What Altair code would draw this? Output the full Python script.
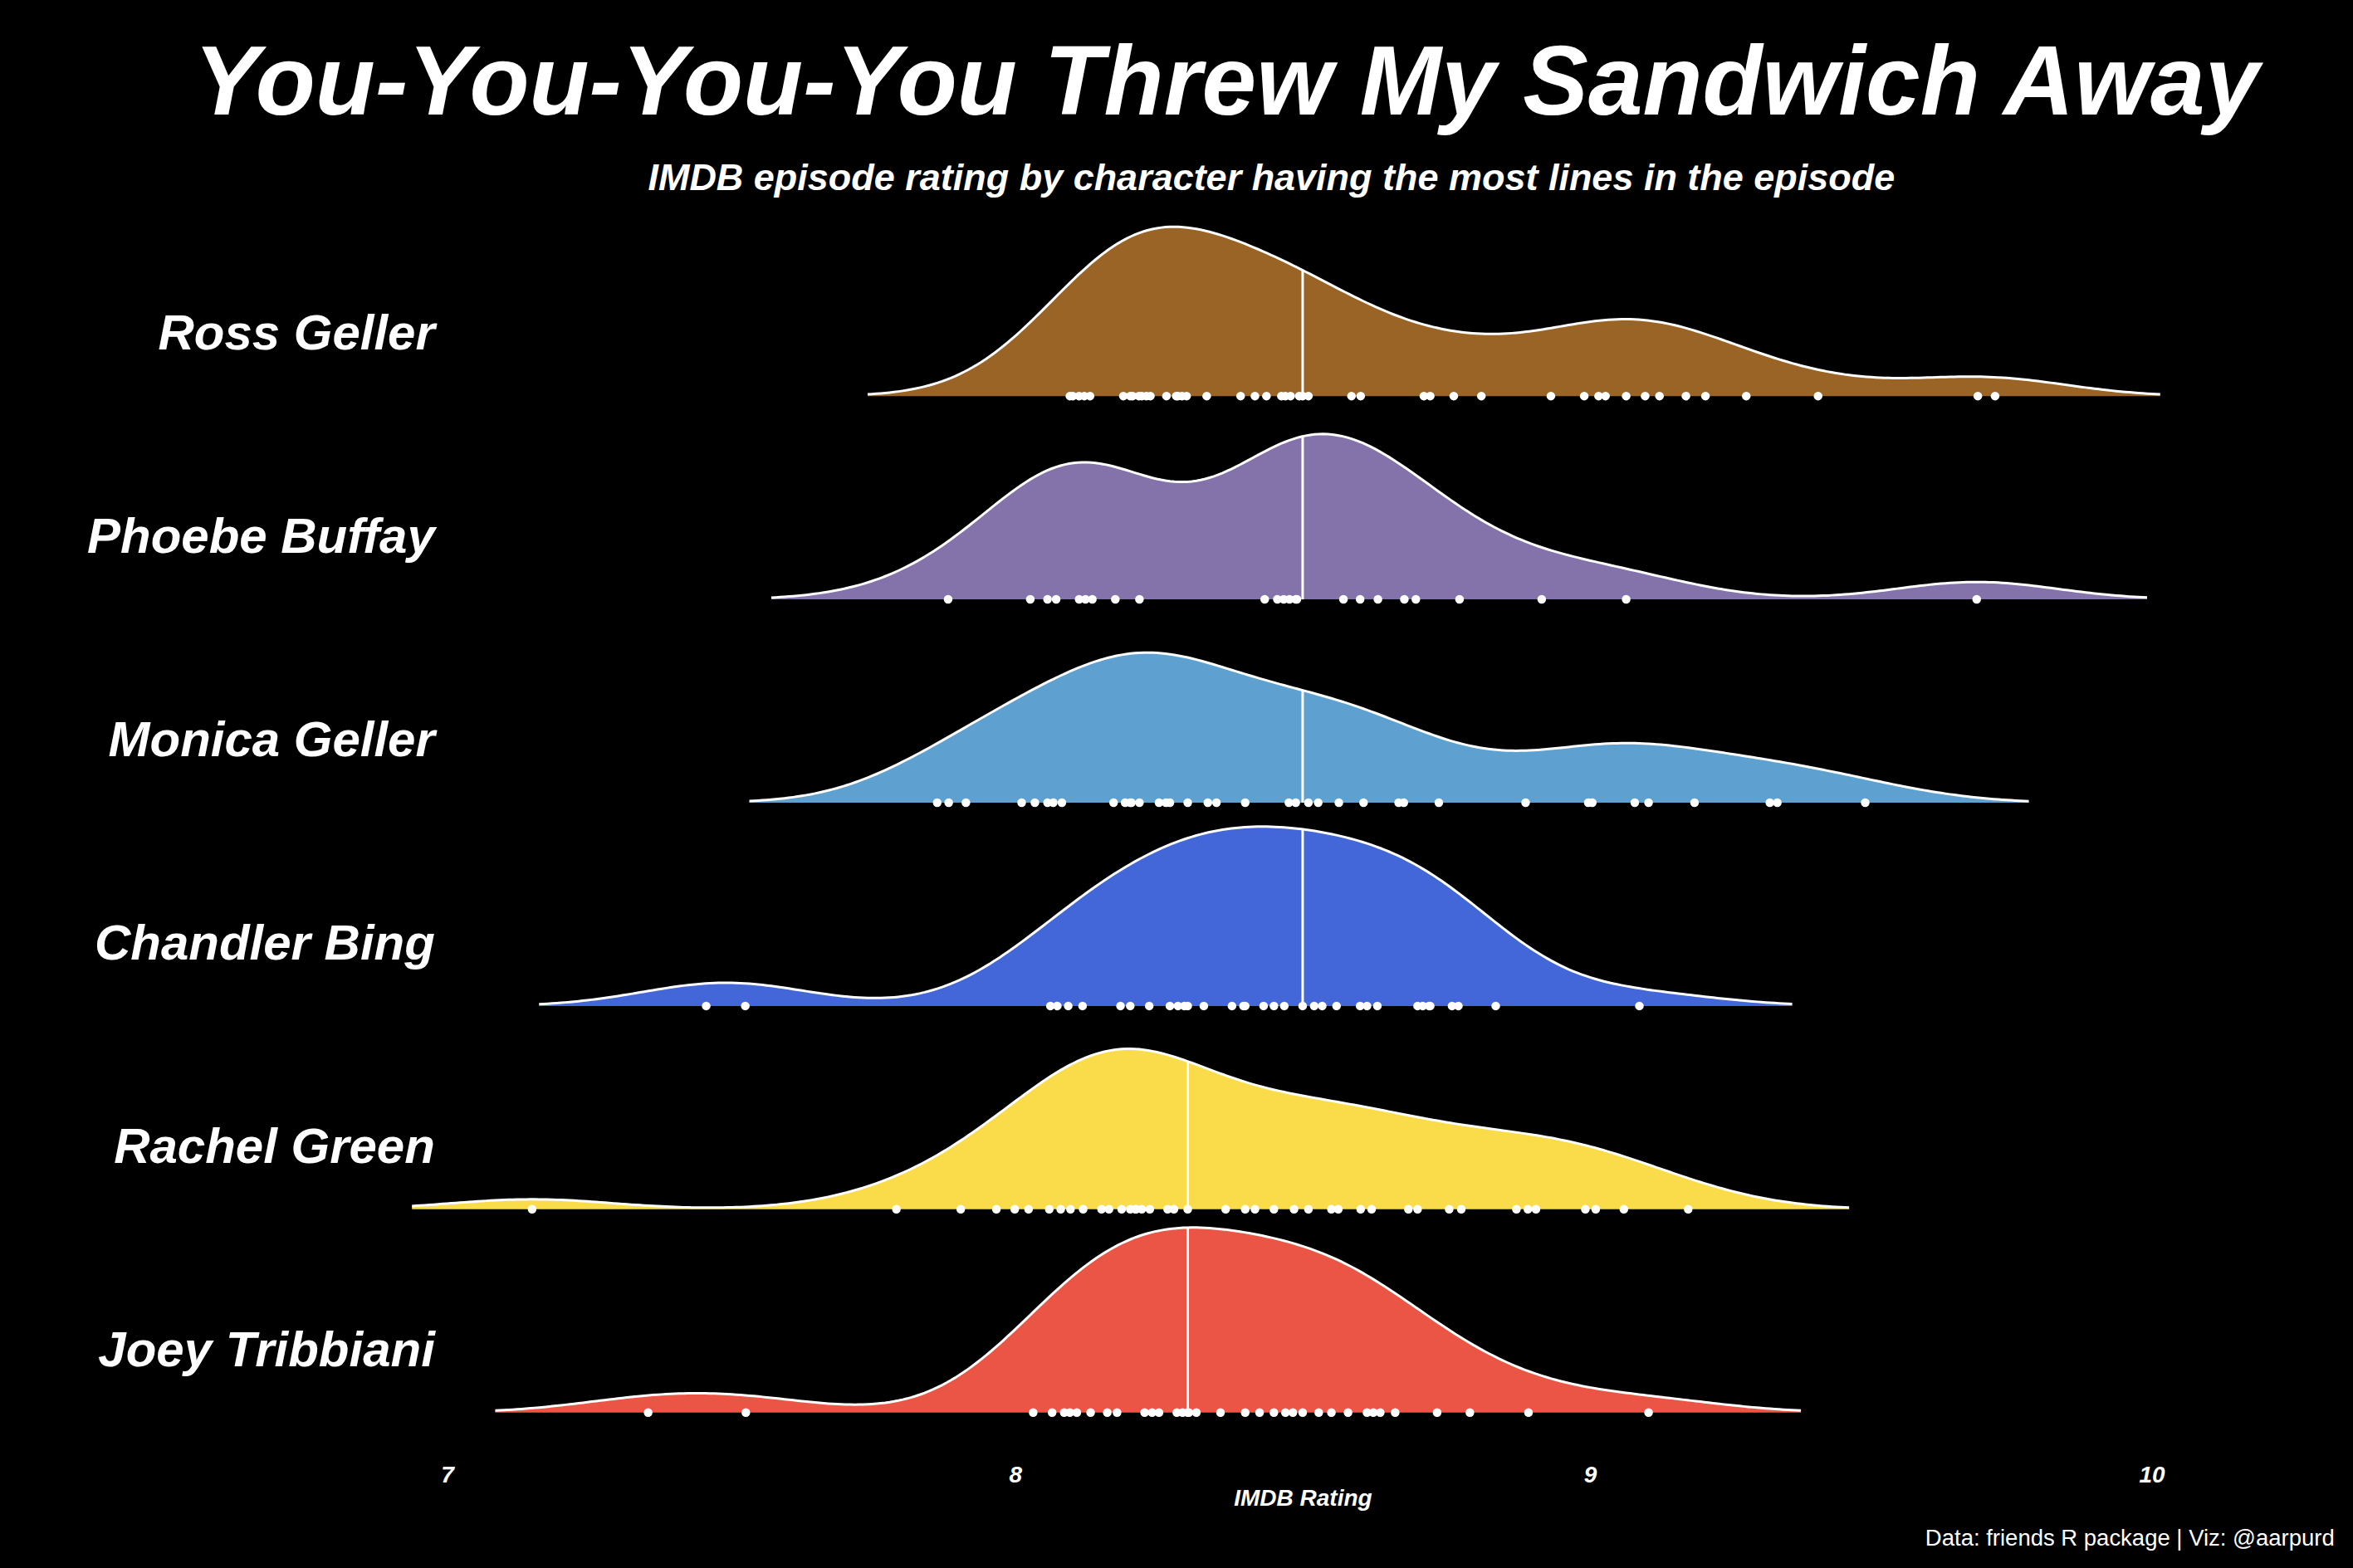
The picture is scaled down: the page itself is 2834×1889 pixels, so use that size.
import altair as alt
import pandas as pd

characters = ["Ross Geller", "Phoebe Buffay", "Monica Geller", "Chandler Bing", "Rachel Green", "Joey Tribbiani"]
colors = ["#9A6426", "#8373AA", "#5EA1D1", "#4367D9", "#FADC4A", "#EB5546"]
medians = [8.5, 8.5, 8.5, 8.5, 8.3, 8.3]
x_ticks = [7, 8, 9, 10]

ross = [8.095, 8.100, 8.111, 8.120, 8.130, 8.188, 8.200, 8.204, 8.215, 8.220, 8.228, 8.235,
        8.263, 8.280, 8.283, 8.290, 8.298, 8.333, 8.392, 8.417, 8.437, 8.463, 8.470, 8.479,
        8.494, 8.500, 8.510, 8.585, 8.601, 8.711, 8.722, 8.763, 8.811, 8.932, 8.990, 9.015,
        9.027, 9.063, 9.096, 9.121, 9.167, 9.201, 9.272, 9.397, 9.675, 9.705]
phoebe = [7.883, 8.026, 8.056, 8.071, 8.111, 8.122, 8.134, 8.174, 8.216, 8.434, 8.456, 8.467,
          8.477, 8.488, 8.490, 8.571, 8.600, 8.631, 8.677, 8.697, 8.773, 8.916, 9.063, 9.673]
monica = [7.864, 7.884, 7.914, 8.011, 8.034, 8.056, 8.066, 8.081, 8.171, 8.191, 8.200, 8.202,
          8.216, 8.250, 8.262, 8.269, 8.300, 8.335, 8.350, 8.400, 8.476, 8.488, 8.510, 8.527,
          8.563, 8.606, 8.667, 8.676, 8.737, 8.888, 8.997, 9.004, 9.078, 9.102, 9.182, 9.313,
          9.326, 9.479]
chandler = [7.462, 7.530, 8.061, 8.073, 8.092, 8.117, 8.183, 8.200, 8.233, 8.269, 8.283, 8.294,
            8.300, 8.328, 8.377, 8.397, 8.400, 8.432, 8.450, 8.468, 8.500, 8.520, 8.534, 8.559,
            8.600, 8.612, 8.630, 8.700, 8.709, 8.720, 8.722, 8.760, 8.771, 8.836, 9.086]
rachel = [7.159, 7.793, 7.905, 7.967, 7.999, 8.023, 8.059, 8.079, 8.096, 8.118, 8.150, 8.163,
          8.185, 8.200, 8.209, 8.210, 8.220, 8.234, 8.265, 8.276, 8.300, 8.366, 8.400, 8.417,
          8.450, 8.485, 8.510, 8.550, 8.562, 8.601, 8.620, 8.684, 8.700, 8.755, 8.776, 8.872,
          8.892, 8.906, 8.992, 9.010, 9.059, 9.171]
joey = [7.361, 7.531, 8.031, 8.064, 8.085, 8.095, 8.107, 8.131, 8.160, 8.177, 8.225, 8.238,
        8.250, 8.281, 8.291, 8.300, 8.302, 8.315, 8.357, 8.400, 8.425, 8.450, 8.470, 8.483,
        8.500, 8.528, 8.550, 8.579, 8.612, 8.623, 8.635, 8.661, 8.734, 8.791, 8.893, 9.102]

series = [ross, phoebe, monica, chandler, rachel, joey]

df = pd.DataFrame({
    "character": [c for c, v in zip(characters, series) for _ in v],
    "median": [m for m, v in zip(medians, series) for _ in v],
    "rating": [r for v in series for r in v],
})

FONT = "Liberation Sans"
BW = 0.14
EXT = [6.95, 10.0]
REL = 0.01

xscale = alt.Scale(domain=[7, 10], nice=False, zero=False)
xaxis = alt.Axis(values=x_ticks, grid=False, domain=False, ticks=False,
                 labelColor="white", labelFont=FONT, labelFontSize=28,
                 labelFontStyle="italic", labelFontWeight="bold", labelPadding=62,
                 titleColor="white", titleFont=FONT, titleFontSize=28,
                 titleFontStyle="italic", titleFontWeight="bold", titlePadding=0)
yscale = alt.Scale(range=[148, -75], nice=False, zero=True)
color = alt.Color("character:N", scale=alt.Scale(domain=characters, range=colors), legend=None)


def xenc(field):
    return alt.X(field, scale=xscale, axis=xaxis, title="IMDB Rating")


def dens():
    return (alt.Chart()
            .transform_density("rating", groupby=["character", "median"], bandwidth=BW, extent=EXT,
                               steps=400, as_=["value", "density"]))


def trimmed():
    return (dens()
            .transform_joinaggregate(maxd="max(density)", groupby=["character"])
            .transform_filter(f"datum.density >= {REL} * datum.maxd"))


area = trimmed().mark_area(opacity=1).encode(
    x=xenc("value:Q"), y=alt.Y("density:Q", scale=yscale, axis=None), color=color)

outline = trimmed().mark_line(color="white", strokeWidth=3).encode(
    x=xenc("value:Q"), y=alt.Y("density:Q", scale=yscale, axis=None))

med = (dens()
       .transform_calculate(dist="abs(datum.value - datum.median)")
       .transform_joinaggregate(mind="min(dist)", groupby=["character"])
       .transform_filter("datum.dist == datum.mind")
       .mark_rule(color="white", strokeWidth=3)
       .encode(x=xenc("median:Q"), y=alt.Y("density:Q", scale=yscale, axis=None),
               y2=alt.Y2Datum(0)))

pts = alt.Chart().mark_circle(color="white", opacity=1, size=110).encode(
    x=xenc("rating:Q"), y=alt.YDatum(0, type="quantitative", scale=yscale, axis=None))

names = (alt.Chart()
         .transform_window(rn="row_number()", groupby=["character"])
         .transform_filter("datum.rn == 1")
         .mark_text(align="right", baseline="middle", font=FONT, fontSize=60,
                    fontStyle="italic", fontWeight="bold", color="white")
         .encode(text="character:N", x=alt.value(-7), y=alt.value(74)))

ridges = (alt.layer(area, outline, med, pts, names)
          .properties(width=2077, height=148)
          .facet(row=alt.Row("character:N", sort=characters, title=None,
                             header=alt.Header(labels=False)),
                 data=df, spacing=97, bounds="flush")
          .properties(title=alt.Title("Data: friends R package | Viz: @aarpurd", orient="bottom",
                                      anchor="end", font=FONT, fontSize=27.5, fontWeight="normal",
                                      color="white", dx=204, offset=20)))

level1 = alt.vconcat(ridges).properties(
    title=alt.Title("IMDB episode rating by character having the most lines in the episode",
                    anchor="middle", font=FONT, fontSize=45, fontStyle="italic",
                    fontWeight="bold", color="white", offset=29, dx=73))

chart = alt.vconcat(level1).properties(
    title=alt.Title("You-You-You-You Threw My Sandwich Away", anchor="middle", font=FONT,
                    fontSize=118, fontStyle="italic", fontWeight="bold", color="white",
                    offset=30, dx=19),
    padding={"left": 105, "top": 43, "right": 22, "bottom": 22},
).configure(background="black").configure_view(strokeOpacity=0)

chart.save("out.html", embed_options={"renderer": "svg", "actions": False})
